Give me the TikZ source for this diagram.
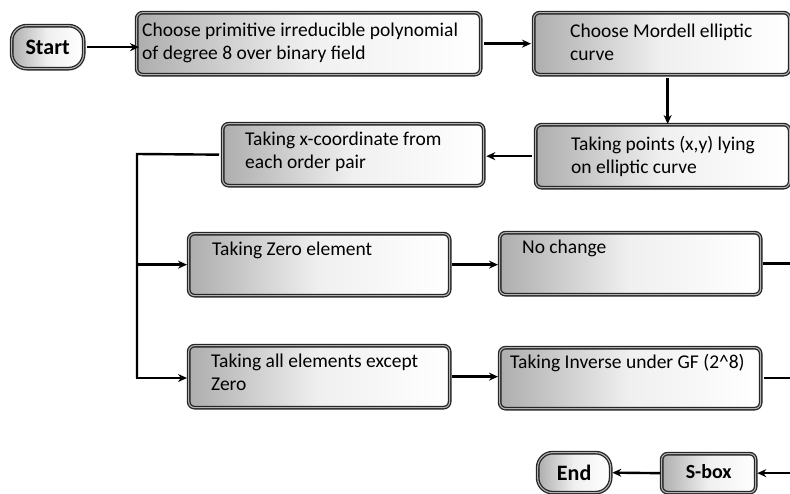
\documentclass[tikz,border=0pt]{standalone}
\usepackage{fontspec}
\setmainfont{Carlito}
\usetikzlibrary{arrows.meta,shadings}
\begin{document}
\begin{tikzpicture}[x=1pt,y=-1pt,
  box/.style={rectangle, rounded corners=6pt, anchor=north west, inner sep=0pt,
    left color=black!32, right color=white, middle color=black!6,
    draw=black!85, line width=1.3pt, double=black!30, double distance=1.1pt},
  pill/.style={box, rounded corners=15pt},
  txt/.style={anchor=base west, inner sep=0pt, align=left,
    font=\fontsize{19.5}{23}\selectfont},
  btxt/.style={inner sep=0pt, font=\fontsize{22}{24}\selectfont\bfseries},
  arr/.style={-{Stealth[length=9pt,width=8pt]}, line width=2.4pt, black},
  ln/.style={line width=2.4pt, black}]
\useasboundingbox (0,0) rectangle (790,493);
% boxes
\node[pill, minimum width=72pt, minimum height=43pt] (start) at (11,25) {};
\node[btxt] (tstart) at (start.center) {Start};
\node[box, minimum width=344pt, minimum height=62pt] (b1) at (136,12) {};
\node[txt] (t1) at (142,59) {Choose primitive irreducible polynomial\\of degree 8 over binary field};
\node[box, minimum width=256pt, minimum height=62pt] (b2) at (533,12) {};
\node[txt] (t2) at (570,60) {Choose Mordell elliptic\\curve};
\node[box, minimum width=254pt, minimum height=63pt] (b3) at (535,124) {};
\node[txt] (t3) at (571,173) {Taking points (x,y) lying\\on elliptic curve};
\node[box, minimum width=261pt, minimum height=62pt] (b4) at (222,123) {};
\node[txt] (t4) at (245,168) {Taking x-coordinate from\\each order pair};
\node[box, minimum width=261pt, minimum height=62pt] (b5) at (188,233) {};
\node[txt] (t5) at (212,255) {Taking Zero element};
\node[box, minimum width=261pt, minimum height=62pt] (b6) at (499,232) {};
\node[txt] (t6) at (522,253) {No change};
\node[box, minimum width=261pt, minimum height=62pt] (b7) at (188,345) {};
\node[txt] (t7) at (211,390) {Taking all elements except\\Zero};
\node[box, minimum width=261pt, minimum height=61pt] (b8) at (499,347) {};
\node[txt] (t8) at (510,368) {Taking Inverse under GF (2\^{}8)};
\node[box, minimum width=94pt, minimum height=39pt] (sbox) at (661,453) {};
\node[btxt, font=\fontsize{20}{22}\selectfont\bfseries] (tsbox) at ([yshift=2pt]sbox.center) {S-box};
\node[pill, minimum width=73pt, minimum height=40pt] (end) at (537,452) {};
\node[btxt] (tend) at (end.center) {End};
% coordinates
\coordinate (trunkTop) at (137,154);
\coordinate (trunkBot) at (137,378);
\coordinate (rx) at (792,0);
% connectors
\draw[arr] ([xshift=3pt]start.east) -- ([xshift=3pt]start.east -| b1.west);
\draw[arr] ([xshift=3pt]b1.east) -- ([xshift=-2pt]b1.east -| b2.west);
\draw[arr] ([xshift=6pt,yshift=-3pt]b2.south) -- ([xshift=6pt]b2.south |- b3.north);
\draw[arr] ([xshift=-3pt]b3.west) -- ([xshift=2pt]b3.west -| b4.east);
\draw[ln] ([xshift=-3pt]b4.west) -- (trunkTop) -- (trunkBot);
\draw[arr] ([xshift=-1.2pt]trunkTop |- b5.west) -- ([xshift=-1pt]b5.west);
\draw[arr] ([xshift=-1.2pt]trunkBot) -- ([xshift=-1pt]trunkBot -| b7.west);
\draw[arr] ([xshift=2pt]b5.east) -- ([xshift=-1pt]b5.east -| b6.west);
\draw[arr] ([xshift=2pt]b7.east) -- ([xshift=-1pt]b7.east -| b8.west);
\draw[ln] ([xshift=2pt]b6.east) -- (b6.east -| rx);
\draw[ln] ([xshift=3pt]b8.east) -- (b8.east -| rx);
\draw[arr] (sbox.east -| rx) -- ([xshift=1pt]sbox.east);
\draw[arr] ([xshift=-1pt]sbox.west) -- ([xshift=1pt]end.east);
\end{tikzpicture}
\end{document}
